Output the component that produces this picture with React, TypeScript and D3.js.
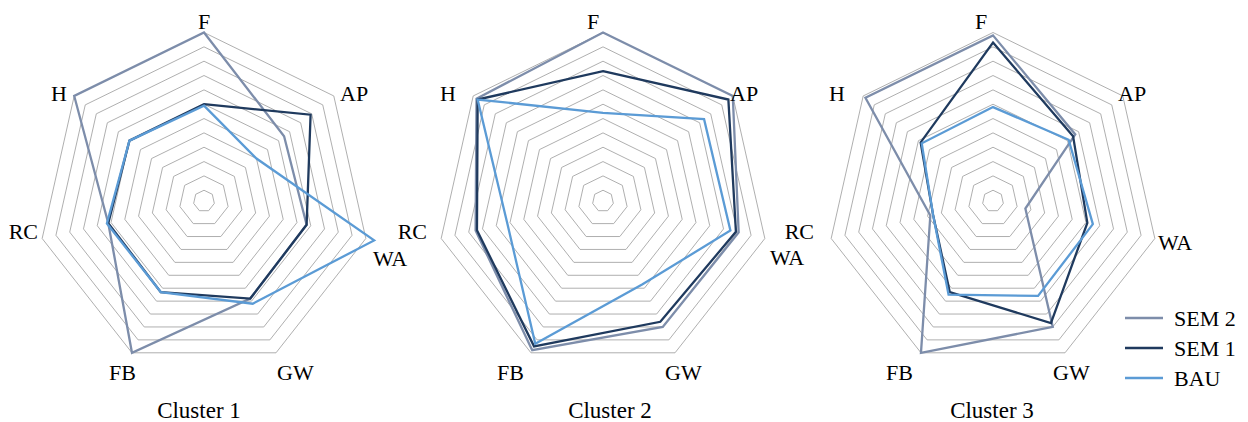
import React from 'react';
import * as d3 from 'd3';

// ---- data ----
const axes = ['F', 'AP', 'WA', 'GW', 'FB', 'RC', 'H'];
const seriesNames = ['SEM 2', 'SEM 1', 'BAU'];
const clusterNames = ['Cluster 1', 'Cluster 2', 'Cluster 3'];
const ringLevels = [1, 2, 3, 4, 5, 6, 7, 8, 9, 10, 11, 12];
const axisMin = 0.25;
const axisMax = 12;

const c1SEM2 = [12, 7.5, 7.7, 7.8, 12, 7.2, 12];
const c1SEM1 = [7.0, 9.9, 7.7, 7.8, 7.3, 7.2, 7.0];
const c1BAU = [6.9, 5.0, 12.6, 8.2, 7.3, 7.3, 7.0];

const c2SEM2 = [12, 12, 10.1, 10.0, 11.8, 9.5, 11.7];
const c2SEM1 = [9.3, 11.6, 9.9, 9.6, 11.5, 9.4, 11.6];
const c2BAU = [6.4, 9.4, 9.5, 6.7, 11.3, 7.2, 11.6];

const c3SEM2 = [11.8, 7.7, 2.6, 10.0, 12, 4.8, 11.8];
const c3SEM1 = [11.3, 7.5, 7.1, 9.7, 7.3, 4.6, 6.8];
const c3BAU = [6.8, 7.1, 7.5, 7.6, 7.5, 4.6, 6.7];

const clusterData = [
  [c1SEM2, c1SEM1, c1BAU],
  [c2SEM2, c2SEM1, c2BAU],
  [c3SEM2, c3SEM1, c3BAU],
];

// ---- layout / style ----
const W = 1248;
const H = 422;
const centers = [
  { cx: 204, cy: 201 },
  { cx: 603, cy: 201 },
  { cx: 993, cy: 201 },
];
const R = 166;
const KY = 1.015;
const colors = ['#7D8DAA', '#1F3A5E', '#5B9BD5'];
const FONT = '"Liberation Serif", "Times New Roman", serif';

// label placement relative to cluster center: [dx, dy(baseline), anchor]
const labelLayouts: [number, number, string][][] = [
  [[0, -172, 'middle'], [136, -100, 'start'], [169, 65, 'start'], [73, 179, 'start'], [-68, 179, 'end'], [-166, 38, 'end'], [-137, -100, 'end']],
  [[-10, -172, 'middle'], [127, -100, 'start'], [167, 64, 'start'], [62, 179, 'start'], [-79, 179, 'end'], [-176, 38, 'end'], [-147, -100, 'end']],
  [[-12, -172, 'middle'], [125, -100, 'start'], [165, 49, 'start'], [60, 179, 'start'], [-80, 179, 'end'], [-179, 38, 'end'], [-148, -100, 'end']],
];
const titleX = [199, 610, 992];

const angle = (i: number) => (i * 2 * Math.PI) / axes.length;

export default function App() {
  const r = d3.scaleLinear().domain([axisMin, axisMax]).range([0, R]);
  const poly = d3
    .line<number>()
    .x((d, i) => r(d) * Math.sin(angle(i)))
    .y((d, i) => -r(d) * Math.cos(angle(i)) * KY)
    .curve(d3.curveLinearClosed);

  return (
    <svg
      width={W}
      height={H}
      style={{ position: 'absolute', left: 0, top: 0, background: '#fff' }}
    >
      {clusterData.map((series, ci) => {
        const { cx, cy } = centers[ci];
        return (
          <g key={ci}>
            <g transform={`translate(${cx},${cy})`}>
              {ringLevels.map((lv) => (
                <path
                  key={lv}
                  d={poly(axes.map(() => lv)) || ''}
                  fill="none"
                  stroke="#A6A6A6"
                  strokeWidth={0.9}
                />
              ))}
              {series.map((vals, si) => (
                <path
                  key={si}
                  d={poly(vals) || ''}
                  fill="none"
                  stroke={colors[si]}
                  strokeWidth={2.3}
                  strokeLinejoin="miter"
                />
              ))}
            </g>
            {axes.map((a, ai) => {
              const [dx, dy, anchor] = labelLayouts[ci][ai];
              return (
                <text
                  key={a}
                  x={cx + dx}
                  y={cy + dy}
                  textAnchor={anchor as any}
                  fontFamily={FONT}
                  fontSize={22}
                  fill="#000"
                >
                  {a}
                </text>
              );
            })}
            <text
              x={titleX[ci]}
              y={418}
              textAnchor="middle"
              fontFamily={FONT}
              fontSize={23}
              fill="#000"
            >
              {clusterNames[ci]}
            </text>
          </g>
        );
      })}
      {seriesNames.map((s, si) => (
        <g key={s} transform={`translate(1125,${318 + si * 30})`}>
          <line x1={0} x2={38} y1={0} y2={0} stroke={colors[si]} strokeWidth={2.3} />
          <text x={49} y={7.5} fontFamily={FONT} fontSize={22} fill="#000">
            {s}
          </text>
        </g>
      ))}
    </svg>
  );
}
